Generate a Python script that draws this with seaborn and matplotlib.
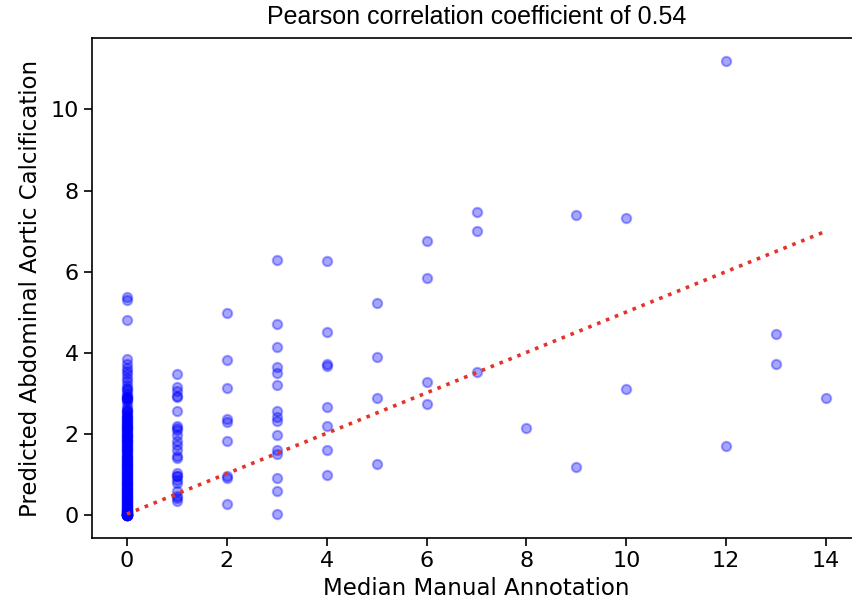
import numpy as np
import pandas as pd
import matplotlib
matplotlib.use("Agg")
import matplotlib.pyplot as plt
import seaborn as sns

# ---- data ----
title = "Pearson correlation coefficient of 0.54"
x_label = "Median Manual Annotation"
y_label = "Predicted Abdominal Aortic Calcification"

pred_at_0 = [5.38, 5.30, 4.80, 3.86, 3.72, 3.63, 3.55, 3.47, 3.38, 3.30, 3.22, 3.14,
             3.05, 2.95, 2.90, 2.86, 2.78, 2.70, 2.62, 2.55, 2.48, 2.40, 2.33, 2.27,
             2.20, 2.14, 2.08, 2.02, 1.96, 1.90, 1.84, 1.78, 1.72, 1.66, 1.61, 1.55,
             1.50, 1.44, 1.38, 1.33, 1.27, 1.21, 1.16, 1.10, 1.05, 0.99, 0.94, 0.88,
             0.83, 0.78, 0.72, 0.67, 0.62, 0.57, 0.52, 0.47, 0.42, 0.37, 0.33, 0.28,
             0.24, 0.20, 0.16, 0.12, 0.09, 0.06, 0.04, 0.02, 0.01, 0.0, 0.0, 0.0,
             2.25, 2.10, 1.95, 1.80, 1.65, 1.45, 1.30, 1.15, 1.00, 0.85, 0.70, 0.55,
             0.40, 0.25, 0.10, 0.03, 0.0, 2.88, 2.60, 2.45,
             2.30, 2.17, 2.05, 1.92, 1.75, 1.58, 1.41, 1.24, 1.08, 0.91, 0.75, 0.60,
             0.45, 0.30, 0.14, 0.05, 0.0, 2.92, 2.84, 2.52, 2.36, 1.88, 1.69, 1.36,
             1.19, 0.96, 0.80, 0.64, 0.50, 0.35, 0.18, 0.07, 0.0, 0.0,
             2.42, 2.22, 2.12, 1.98, 1.86, 1.70, 1.52, 1.39, 1.26, 1.13, 1.02, 0.90,
             0.77, 0.65, 0.53, 0.43, 0.32, 0.22, 0.13, 0.08, 0.04, 0.02, 0.0, 0.0,
             2.58, 2.35, 2.18, 2.00, 1.82, 1.62, 1.47, 1.32, 1.18, 1.06, 0.92, 0.81,
             0.69, 0.58, 0.48, 0.38, 0.27, 0.19, 0.11, 0.05, 0.01, 0.0, 3.10, 2.98]
pred_at_1 = [3.49, 3.17, 3.05, 2.92, 2.58, 2.19, 2.09, 1.97, 1.84, 1.72, 1.60, 1.47,
             1.40, 1.03, 0.96, 0.86, 0.79, 0.59, 0.42, 0.34, 2.95, 2.15, 0.98, 0.47]
pred_at_2 = [4.99, 3.83, 3.14, 2.36, 2.31, 1.84, 0.98, 0.93, 0.27]
pred_at_3 = [6.28, 4.72, 4.15, 3.66, 3.51, 3.22, 2.56, 2.43, 2.33, 1.97, 1.60, 1.52,
             0.91, 0.59, 0.03]
pred_at_4 = [6.27, 4.52, 3.73, 3.68, 2.68, 2.19, 1.60, 0.99]
pred_at_5 = [5.23, 3.91, 2.90, 1.27]
pred_at_6 = [6.76, 5.85, 3.29, 2.73]
pred_at_7 = [7.47, 7.00, 3.54]
pred_at_8 = [2.14]
pred_at_9 = [7.40, 1.18]
pred_at_10 = [7.32, 3.12]
pred_at_12 = [11.20, 1.70]
pred_at_13 = [4.47, 3.73]
pred_at_14 = [2.90]

fit_x = [0, 14]
fit_y = [0.03, 7.0]

groups = {0: pred_at_0, 1: pred_at_1, 2: pred_at_2, 3: pred_at_3, 4: pred_at_4,
          5: pred_at_5, 6: pred_at_6, 7: pred_at_7, 8: pred_at_8, 9: pred_at_9,
          10: pred_at_10, 12: pred_at_12, 13: pred_at_13, 14: pred_at_14}
rows = [(k, v) for k, vals in groups.items() for v in vals]
df = pd.DataFrame(rows, columns=["manual", "pred"])
fit_df = pd.DataFrame({"x": fit_x, "y": fit_y})

# ---- plot ----
sns.set_style("ticks")
plt.rcParams["font.family"] = ["DejaVu Sans"]
plt.rcParams["text.color"] = "black"
plt.rcParams["axes.labelcolor"] = "black"
plt.rcParams["xtick.color"] = "black"
plt.rcParams["ytick.color"] = "black"

fig = plt.figure(figsize=(8.52, 6.11), dpi=100)
ax = fig.add_axes([92 / 852, 1 - 538 / 611, (861 - 92) / 852, (538 - 38) / 611])

sns.scatterplot(data=df, x="manual", y="pred", ax=ax, color="blue", alpha=0.35,
                s=45, linewidth=1.5, edgecolor="blue", legend=False)
sns.lineplot(data=fit_df, x="x", y="y", ax=ax, color="#e5332a", linestyle=":",
             linewidth=2.6, legend=False)

ax.set_xlim(-0.7, 14.7)
ax.set_ylim(-0.56, 11.76)
ax.set_xticks(range(0, 15, 2))
ax.set_yticks(range(0, 11, 2))
ax.tick_params(labelsize=16, length=6, width=1.2, direction="out", colors="black")
for sp in ax.spines.values():
    sp.set_linewidth(1.2)
    sp.set_color("black")

ax.set_xlabel(x_label, fontsize=16.5, labelpad=4)
ax.set_ylabel(y_label, fontsize=16.5, labelpad=6)
ax.set_title(title, fontsize=18, family=["Liberation Sans"], pad=10)

fig.savefig("out.png", dpi=100)
